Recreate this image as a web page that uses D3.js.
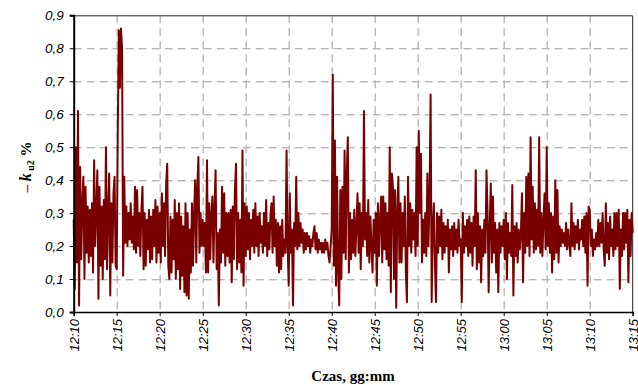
<!DOCTYPE html>
<html>
<head>
<meta charset="utf-8">
<script src="https://cdn.jsdelivr.net/npm/d3@7"></script>
<style>
  body { margin: 0; background: #fff; }
  svg { display: block; }
</style>
</head>
<body>
<svg id="chart" width="638" height="385"></svg>
<script>
// Coefficient k_u2 [%], sampled every 7.5 s starting at 12:10 (8 samples per minute)
const startTime = "12:10";
const sampleSeconds = 7.5;
const kValues = [
  // 12:10 - 12:15
  0.28,0.07,0.50,0.15,0.61,0.02,0.44,0.16,
  0.33,0.41,0.10,0.38,0.18,0.32,0.15,0.31,
  0.17,0.33,0.12,0.46,0.20,0.31,0.43,0.04,
  0.38,0.14,0.32,0.10,0.34,0.16,0.50,0.13,
  0.30,0.42,0.05,0.33,0.15,0.36,0.41,0.14,
  // 12:15 - 12:20
  0.13,0.55,0.855,0.68,0.86,0.80,0.11,0.41,
  0.21,0.32,0.20,0.30,0.22,0.33,0.21,0.29,
  0.19,0.38,0.18,0.37,0.20,0.30,0.17,0.31,
  0.38,0.13,0.30,0.14,0.28,0.19,0.31,0.15,
  0.29,0.16,0.31,0.20,0.34,0.15,0.32,0.18,
  // 12:20 - 12:25
  0.30,0.15,0.36,0.20,0.33,0.17,0.39,0.45,
  0.14,0.10,0.29,0.12,0.28,0.16,0.34,0.10,
  0.30,0.13,0.33,0.07,0.29,0.11,0.26,0.06,
  0.33,0.05,0.30,0.04,0.25,0.12,0.33,0.14,
  0.30,0.40,0.15,0.38,0.47,0.18,0.30,0.20,
  // 12:25 - 12:30
  0.28,0.20,0.27,0.12,0.46,0.12,0.33,0.16,
  0.30,0.35,0.15,0.32,0.43,0.13,0.24,0.02,
  0.25,0.15,0.38,0.18,0.36,0.14,0.30,0.17,
  0.30,0.15,0.31,0.09,0.32,0.16,0.37,0.45,
  0.13,0.30,0.15,0.28,0.12,0.49,0.08,0.33,
  // 12:30 - 12:35
  0.17,0.32,0.19,0.30,0.16,0.28,0.20,0.31,
  0.18,0.33,0.20,0.29,0.17,0.30,0.21,0.26,
  0.18,0.30,0.20,0.34,0.17,0.27,0.19,0.29,
  0.33,0.18,0.35,0.20,0.28,0.14,0.27,0.12,
  0.26,0.13,0.28,0.17,0.22,0.18,0.49,0.20,
  // 12:35 - 12:40
  0.08,0.36,0.18,0.25,0.02,0.27,0.20,0.41,
  0.19,0.30,0.20,0.27,0.21,0.25,0.18,0.24,
  0.19,0.24,0.20,0.23,0.18,0.22,0.20,0.24,
  0.26,0.19,0.24,0.18,0.22,0.19,0.21,0.18,
  0.21,0.18,0.22,0.19,0.21,0.17,0.15,0.20,
  // 12:40 - 12:45
  0.25,0.72,0.14,0.52,0.08,0.41,0.12,0.02,
  0.37,0.10,0.38,0.18,0.49,0.16,0.42,0.53,
  0.12,0.30,0.16,0.28,0.18,0.31,0.17,0.26,
  0.36,0.18,0.33,0.13,0.30,0.20,0.61,0.22,
  0.30,0.17,0.34,0.15,0.29,0.20,0.12,0.28,
  // 12:45 - 12:50
  0.18,0.30,0.08,0.33,0.17,0.28,0.35,0.15,
  0.35,0.19,0.33,0.16,0.30,0.14,0.50,0.06,
  0.42,0.38,0.10,0.37,0.013,0.30,0.41,0.15,
  0.33,0.15,0.30,0.20,0.35,0.12,0.03,0.41,
  0.20,0.33,0.18,0.31,0.22,0.30,0.17,0.50,
  // 12:50 - 12:55
  0.20,0.55,0.30,0.48,0.15,0.28,0.18,0.30,
  0.17,0.42,0.20,0.35,0.66,0.03,0.25,0.33,
  0.15,0.03,0.30,0.18,0.29,0.20,0.31,0.16,
  0.27,0.18,0.26,0.20,0.28,0.12,0.25,0.19,
  0.26,0.17,0.27,0.19,0.25,0.18,0.28,0.20,
  // 12:55 - 13:00
  0.22,0.03,0.30,0.18,0.26,0.20,0.28,0.17,
  0.29,0.18,0.27,0.14,0.29,0.20,0.43,0.13,
  0.30,0.15,0.26,0.09,0.25,0.17,0.28,0.18,
  0.43,0.30,0.06,0.26,0.39,0.15,0.35,0.18,
  0.27,0.12,0.25,0.06,0.27,0.18,0.26,0.20,
  // 13:00 - 13:05
  0.28,0.16,0.30,0.10,0.27,0.18,0.24,0.17,
  0.385,0.05,0.26,0.17,0.27,0.15,0.25,0.19,
  0.24,0.36,0.09,0.30,0.18,0.41,0.20,0.42,
  0.17,0.53,0.22,0.38,0.18,0.33,0.19,0.31,
  0.20,0.53,0.18,0.30,0.17,0.28,0.36,0.19,
  // 13:05 - 13:10
  0.50,0.20,0.33,0.18,0.30,0.12,0.29,0.16,
  0.40,0.18,0.37,0.15,0.26,0.20,0.25,0.21,
  0.24,0.20,0.27,0.19,0.25,0.21,0.17,0.33,
  0.20,0.27,0.19,0.26,0.21,0.28,0.19,0.25,
  0.22,0.28,0.20,0.29,0.18,0.30,0.08,0.32,
  // 13:10 - 13:15
  0.31,0.20,0.25,0.17,0.22,0.19,0.24,0.20,
  0.28,0.20,0.27,0.21,0.30,0.19,0.14,0.33,
  0.18,0.27,0.16,0.29,0.20,0.25,0.17,0.30,
  0.19,0.30,0.20,0.31,0.07,0.25,0.17,0.30,
  0.19,0.30,0.21,0.31,0.09,0.28,0.17,0.30,
  0.24
];
const xTickLabels = ["12:10","12:15","12:20","12:25","12:30","12:35","12:40",
                     "12:45","12:50","12:55","13:00","13:05","13:10","13:15"];
const yTickValues = [0, 0.1, 0.2, 0.3, 0.4, 0.5, 0.6, 0.7, 0.8, 0.9];

const svg = d3.select("#chart");
const W = 638, H = 385;
const margin = { top: 15.3, right: 5.3, bottom: 73, left: 73.7 };
const iw = W - margin.left - margin.right;
const ih = H - margin.top - margin.bottom;

const parseHM = d3.timeParse("%H:%M");
const t0 = parseHM(startTime);
const series = kValues.map((v, i) => ({ t: new Date(t0.getTime() + i * sampleSeconds * 1000), v }));
const xTickDates = xTickLabels.map(parseHM);

const x = d3.scaleTime()
  .domain([xTickDates[0], xTickDates[xTickDates.length - 1]])
  .range([0, iw]);
const y = d3.scaleLinear().domain([0, 0.9]).range([ih, 0]);

const g = svg.append("g").attr("transform", `translate(${margin.left},${margin.top})`);

// dashed grid
g.append("g").selectAll("line")
  .data(yTickValues.filter(v => v > 0 && v < 0.9))
  .join("line")
  .attr("x1", 0).attr("x2", iw)
  .attr("y1", d => Math.round(y(d)) + 0.5).attr("y2", d => Math.round(y(d)) + 0.5)
  .attr("stroke", "#999").attr("stroke-width", 1).attr("stroke-dasharray", "8,5");
g.append("g").selectAll("line")
  .data(xTickDates.slice(1, -1))
  .join("line")
  .attr("x1", d => Math.round(x(d)) + 0.5).attr("x2", d => Math.round(x(d)) + 0.5)
  .attr("y1", 0).attr("y2", ih)
  .attr("stroke", "#b3b3b3").attr("stroke-width", 1.3).attr("stroke-dasharray", "8,5");

// frame (top and right)
g.append("path")
  .attr("d", `M0,0.5H${iw}V${ih}`)
  .attr("fill", "none").attr("stroke", "#222").attr("stroke-width", 1);

// series
const line = d3.line().x(d => x(d.t)).y(d => y(d.v));
g.append("path")
  .datum(series)
  .attr("d", line)
  .attr("fill", "none")
  .attr("stroke", "#7a0000")
  .attr("stroke-width", 2)
  .attr("stroke-linejoin", "round");

// axes
const yAxis = d3.axisLeft(y)
  .tickValues(yTickValues)
  .tickSize(4)
  .tickPadding(6)
  .tickFormat(d => d3.format(".1f")(d).replace(".", ","));
const gy = g.append("g").call(yAxis);
gy.select(".domain").attr("stroke", "#000").attr("stroke-width", 2);
gy.selectAll(".tick line").attr("stroke", "#000");
gy.selectAll("text")
  .attr("font-family", "Liberation Sans, Arial, sans-serif")
  .attr("font-style", "italic")
  .attr("font-size", 13.5)
  .attr("fill", "#000");

const xAxis = d3.axisBottom(x)
  .tickValues(xTickDates)
  .tickSize(4)
  .tickFormat((d, i) => xTickLabels[i]);
const gx = g.append("g").attr("transform", `translate(0,${ih})`).call(xAxis);
gx.select(".domain").attr("stroke", "#000").attr("stroke-width", 1.5);
gx.selectAll(".tick line").attr("stroke", "#000");
gx.selectAll("text")
  .attr("font-family", "Liberation Sans, Arial, sans-serif")
  .attr("font-style", "italic")
  .attr("font-size", 13)
  .attr("fill", "#000")
  .attr("text-anchor", "end")
  .attr("transform", "rotate(-90)")
  .attr("x", -7)
  .attr("y", 0)
  .attr("dy", "0.35em");

// axis titles
svg.append("text")
  .attr("x", 353).attr("y", 381)
  .attr("text-anchor", "middle")
  .attr("font-family", "Liberation Serif, Times New Roman, serif")
  .attr("font-weight", "bold")
  .attr("font-size", 15)
  .text("Czas, gg:mm");

const yt = svg.append("text")
  .attr("transform", "translate(31,167) rotate(-90)")
  .attr("text-anchor", "middle")
  .attr("font-family", "Liberation Serif, Times New Roman, serif")
  .attr("font-weight", "bold")
  .attr("font-size", 15);
yt.append("tspan").attr("fill", "#a00000").text("– ");
yt.append("tspan").attr("font-style", "italic").attr("font-size", 16).text("k");
yt.append("tspan").attr("font-size", 10).attr("dy", 3).text(" u2");
yt.append("tspan").attr("dy", -3).text("   %");
</script>
</body>
</html>
